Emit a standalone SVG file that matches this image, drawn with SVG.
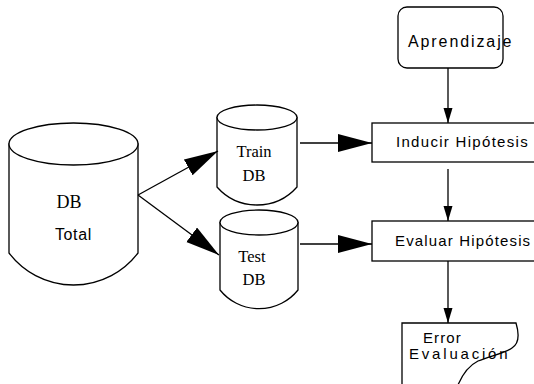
<svg xmlns="http://www.w3.org/2000/svg" width="534" height="384" viewBox="0 0 534 384">
  <style>
    .shape { fill: #ffffff; stroke: #000000; stroke-width: 1.3; }
    .line { fill: none; stroke: #000000; stroke-width: 1.3; }
    .serif { font-family: "Liberation Serif", "Times New Roman", serif; fill: #000000; }
    .sans { font-family: "Liberation Sans", Arial, sans-serif; fill: #000000; }
  </style>
  <defs>
    <!-- large filled arrowhead used on the data flows -->
    <marker id="bigArrow" markerUnits="userSpaceOnUse" markerWidth="36" markerHeight="20" refX="34" refY="9" orient="auto">
      <path d="M0,0 L34,9 L0,18 Z" fill="#000000"/>
    </marker>
    <!-- smaller arrowhead used on the process flow -->
    <marker id="smallArrow" markerUnits="userSpaceOnUse" markerWidth="18" markerHeight="12" refX="15" refY="4.5" orient="auto">
      <path d="M0,0 L15,4.5 L0,9 Z" fill="#000000"/>
    </marker>
  </defs>

  <rect width="534" height="384" fill="#ffffff"/>

  <!-- DB Total -->
  <g id="db-total">
    <path class="shape" d="M9,144 L9,253 A81,81 0 0 0 138,253 L138,144 Z"/>
    <ellipse class="shape" cx="73.5" cy="144" rx="64.5" ry="21"/>
    <text class="serif" x="69" y="208" font-size="18" text-anchor="middle">DB</text>
    <text class="sans" x="55" y="240" font-size="16" letter-spacing="0.6">Total</text>
  </g>

  <!-- Train DB -->
  <g id="train-db">
    <path class="shape" d="M217,117.5 L217,187 A53.4,53.4 0 0 0 297,187 L297,117.5 Z"/>
    <ellipse class="shape" cx="257" cy="117.5" rx="40" ry="12.5"/>
    <text class="serif" x="254" y="157" font-size="16.5" text-anchor="middle">Train</text>
    <text class="serif" x="254" y="181" font-size="16.5" text-anchor="middle">DB</text>
  </g>

  <!-- Test DB -->
  <g id="test-db">
    <path class="shape" d="M220,222.5 L220,290 A50,50 0 0 0 298,290 L298,222.5 Z"/>
    <ellipse class="shape" cx="259" cy="222.5" rx="39" ry="12.5"/>
    <text class="serif" x="252" y="262" font-size="16.5" text-anchor="middle">Test</text>
    <text class="serif" x="254" y="285" font-size="16.5" text-anchor="middle">DB</text>
  </g>

  <!-- Aprendizaje -->
  <g id="aprendizaje">
    <rect class="shape" x="398" y="7" width="105" height="61" rx="9" ry="9"/>
    <text class="sans" x="408" y="47" font-size="16" letter-spacing="1.9">Aprendizaje</text>
  </g>

  <!-- Inducir Hipótesis -->
  <g id="inducir">
    <rect class="shape" x="372" y="123" width="180" height="39"/>
    <text class="sans" x="396" y="147" font-size="15" letter-spacing="1.3">Inducir Hipótesis</text>
  </g>

  <!-- Evaluar Hipótesis -->
  <g id="evaluar">
    <rect class="shape" x="372" y="221" width="180" height="40"/>
    <text class="sans" x="395" y="246" font-size="15" letter-spacing="1.15">Evaluar Hipótesis</text>
  </g>

  <!-- Error Evaluación (document shape) -->
  <g id="error">
    <path class="shape" d="M402,390 L402,323 L516,323 C519,333 520,343 512,348 C505,353 490,356 478,361 C468,366 461,376 456,390 Z"/>
    <text class="sans" x="423" y="343" font-size="15" letter-spacing="1.1">Error</text>
    <text class="sans" x="409" y="359" font-size="15" letter-spacing="2.8">Evaluación</text>
  </g>

  <!-- connectors -->
  <g id="connectors">
    <line class="line" x1="138" y1="195" x2="218" y2="151" marker-end="url(#bigArrow)"/>
    <line class="line" x1="138" y1="195" x2="219" y2="255" marker-end="url(#bigArrow)"/>
    <line class="line" x1="300" y1="143" x2="372" y2="143" marker-end="url(#bigArrow)"/>
    <line class="line" x1="300" y1="244" x2="372" y2="244" marker-end="url(#bigArrow)"/>
    <line class="line" x1="448" y1="68" x2="448" y2="123" marker-end="url(#smallArrow)"/>
    <line class="line" x1="448" y1="169" x2="448" y2="221" marker-end="url(#smallArrow)"/>
    <line class="line" x1="448" y1="261" x2="448" y2="323" marker-end="url(#smallArrow)"/>
  </g>
</svg>
